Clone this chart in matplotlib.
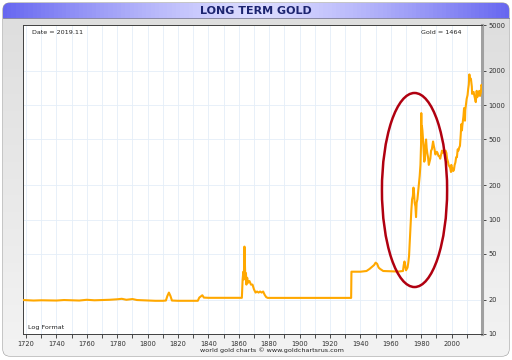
import numpy as np
import matplotlib.pyplot as plt
from matplotlib.patches import Ellipse, FancyBboxPatch, Rectangle
from matplotlib.ticker import FixedLocator, NullFormatter, NullLocator

# Gold price (USD/oz)
years = [1718, 1725, 1730, 1740, 1745, 1750, 1755, 1760, 1765, 1770, 1775, 1780,
         1783, 1786, 1790, 1793, 1797, 1800, 1805, 1810, 1812, 1813, 1814, 1815,
         1816, 1820, 1830, 1833, 1834, 1836, 1837, 1840, 1850, 1861,
         1862, 1862.5, 1863, 1863.3, 1863.7, 1864, 1864.3, 1864.7, 1865, 1865.5,
         1866, 1867, 1868, 1869, 1870, 1871, 1872, 1873, 1874, 1875, 1876, 1877,
         1878, 1879, 1933.9, 1934.1, 1940, 1944, 1946, 1947, 1948, 1949, 1950,
         1951, 1952, 1953, 1955, 1960, 1965, 1968, 1968.5, 1969, 1970, 1971,
         1971.5, 1972, 1972.5, 1973, 1973.5, 1974, 1974.5, 1974.9, 1975.3, 1975.7,
         1976.2, 1976.6, 1977, 1977.5, 1978, 1978.5, 1979, 1979.5, 1979.9, 1980.05,
         1980.2, 1980.5, 1980.8, 1981.2, 1981.6, 1982, 1982.5, 1982.8, 1983.2,
         1983.6, 1984, 1984.5, 1985, 1985.5, 1986, 1986.5, 1987, 1987.8, 1988.3,
         1988.8, 1989.3, 1989.8, 1990.3, 1990.8, 1991.3, 1991.8, 1992.5, 1993.3,
         1993.7, 1994, 1995, 1996, 1996.6, 1997, 1997.6, 1998, 1998.6, 1999,
         1999.6, 1999.8, 2000, 2000.5, 2001, 2001.5, 2002, 2002.5, 2003, 2003.5,
         2004, 2004.5, 2005, 2005.5, 2006, 2006.4, 2006.8, 2007, 2007.8, 2008.2,
         2008.8, 2009, 2009.9, 2010.5, 2010.9, 2011.3, 2011.7, 2012, 2012.7,
         2013.3, 2013.5, 2014, 2014.5, 2015, 2015.9, 2016.5, 2016.9, 2017.5,
         2018.2, 2018.7, 2019.3, 2019.6, 2019.9]
prices = [19.8, 19.6, 19.7, 19.6, 19.8, 19.7, 19.6, 19.9, 19.7, 19.8, 19.9, 20.1,
          20.3, 19.9, 20.2, 19.8, 19.7, 19.6, 19.5, 19.5, 19.6, 21.5, 23.0, 21.5,
          19.6, 19.5, 19.5, 19.5, 20.8, 21.8, 20.8, 20.7, 20.7, 20.7,
          20.7, 30, 35, 30, 58, 40, 30, 34, 27, 31,
          28, 29, 27, 27, 24.5, 23, 23.5, 23, 23.5, 23, 23.5, 22,
          21, 20.67, 20.67, 35, 35, 35.5, 37, 38, 39, 40, 42,
          41, 38, 37, 35.5, 35.3, 35.1, 35.5, 40, 43, 36, 38,
          42, 48, 65, 90, 120, 150, 160, 190, 170, 140,
          130, 105, 140, 150, 175, 200, 240, 300, 450, 850,
          550, 650, 600, 500, 400, 320, 340, 450, 500,
          420, 380, 350, 300, 320, 340, 400, 410, 480, 440,
          410, 370, 380, 390, 380, 360, 360, 340, 380,
          400, 385, 385, 400, 380, 340, 320, 300, 290, 285,
          260, 300, 285, 280, 265, 270, 300, 315, 350, 350,
          410, 400, 425, 440, 550, 680, 600, 650, 800, 940,
          730, 900, 1130, 1220, 1380, 1500, 1850, 1650, 1700,
          1450, 1250, 1300, 1300, 1200, 1060, 1330, 1170, 1250,
          1330, 1200, 1300, 1500, 1464]

y_ticks = [10, 20, 50, 100, 200, 500, 1000, 2000, 5000]
x_major = list(range(1720, 2001, 20))
x_minor = list(range(1730, 2011, 20))

fig = plt.figure(figsize=(5.12, 3.6), dpi=100)

# background panel + title bar
bg = fig.add_axes([0, 0, 1, 1])
bg.set_xlim(0, 512)
bg.set_ylim(360, 0)
bg.axis('off')
panel = FancyBboxPatch((3, 3), 506, 353, boxstyle='round,pad=0,rounding_size=7',
                       facecolor='#e0e0e0', edgecolor='#9a9a9a', lw=0.8, zorder=0)
bg.add_patch(panel)
# soft vertical shading of the panel
n = 40
for i in range(n):
    g = 0.87 + 0.08 * i / (n - 1)
    r = Rectangle((3, 18 + i * 338 / n), 506, 338 / n + 0.5, facecolor=(g, g, g),
                  edgecolor='none', zorder=1)
    r.set_clip_path(panel)
    bg.add_patch(r)
# horizontal blue gradient for the title bar
c_edge = np.array([0.40, 0.40, 0.94])
c_mid = np.array([0.86, 0.86, 1.0])
m = 120
w = 506 / m
for i in range(m):
    tt = abs((i + 0.5) / m * 2 - 1) ** 1.3
    col = c_mid + (c_edge - c_mid) * tt
    r = Rectangle((3 + i * w, 3), w + 0.4, 15, facecolor=col, edgecolor='none',
                  zorder=2)
    r.set_clip_path(panel)
    bg.add_patch(r)
bg.plot([3, 509], [18, 18], color='#7a7a9a', lw=0.6, zorder=3)
bg.text(256, 11, 'LONG TERM GOLD', ha='center', va='center', fontsize=8,
        fontweight='bold', color='#1c2470', zorder=4)
bg.text(272, 350, 'world gold charts \u00a9 www.goldchartsrus.com', ha='center',
        va='center', fontsize=4.6, color='#202020', zorder=4)

# main chart
ax = fig.add_axes([23 / 512, 26 / 360, 459 / 512, 309 / 360])
ax.set_facecolor('white')
ax.plot(years, prices, color='#ffa800', lw=1.5, zorder=3)
ax.set_yscale('log')
ax.set_ylim(10, 5000)
ax.set_xlim(1718, 2020)

ax.yaxis.set_major_locator(FixedLocator(y_ticks))
ax.yaxis.set_minor_locator(NullLocator())
ax.yaxis.set_minor_formatter(NullFormatter())
ax.set_yticklabels([str(v) for v in y_ticks])
ax.yaxis.tick_right()
ax.tick_params(axis='y', which='major', direction='out', length=3, width=0.6,
               labelsize=4.8, pad=1.5, colors='#303030')
ax.xaxis.set_major_locator(FixedLocator(x_major))
ax.xaxis.set_minor_locator(FixedLocator(x_minor))
ax.tick_params(axis='x', which='both', direction='out', length=3, width=0.6,
               labelsize=4.8, pad=2, colors='#303030')

for x in range(1720, 2020, 10):
    ax.axvline(x, color='#e4eef8', lw=0.6, zorder=1)
for v in y_ticks:
    ax.axhline(v, color='#e4eef8', lw=0.6, zorder=1)

for side in ['left', 'top', 'bottom']:
    ax.spines[side].set_color('#404040')
    ax.spines[side].set_linewidth(0.7)
ax.spines['right'].set_color('#a0a0a0')
ax.spines['right'].set_linewidth(2.2)

ax.text(0.02, 0.985, 'Date = 2019.11', transform=ax.transAxes, fontsize=4.6,
        va='top', ha='left', color='#202020')
ax.text(0.955, 0.985, 'Gold = 1464', transform=ax.transAxes, fontsize=4.6,
        va='top', ha='right', color='#202020')
ax.text(0.01, 0.012, 'Log Format', transform=ax.transAxes, fontsize=4.6,
        va='bottom', ha='left', color='#202020')

ell = Ellipse((0.853, 0.466), 0.142, 0.628, transform=ax.transAxes,
              fill=False, edgecolor='#b00010', lw=1.8, zorder=4)
ax.add_patch(ell)

fig.savefig('out.png', dpi=100)
